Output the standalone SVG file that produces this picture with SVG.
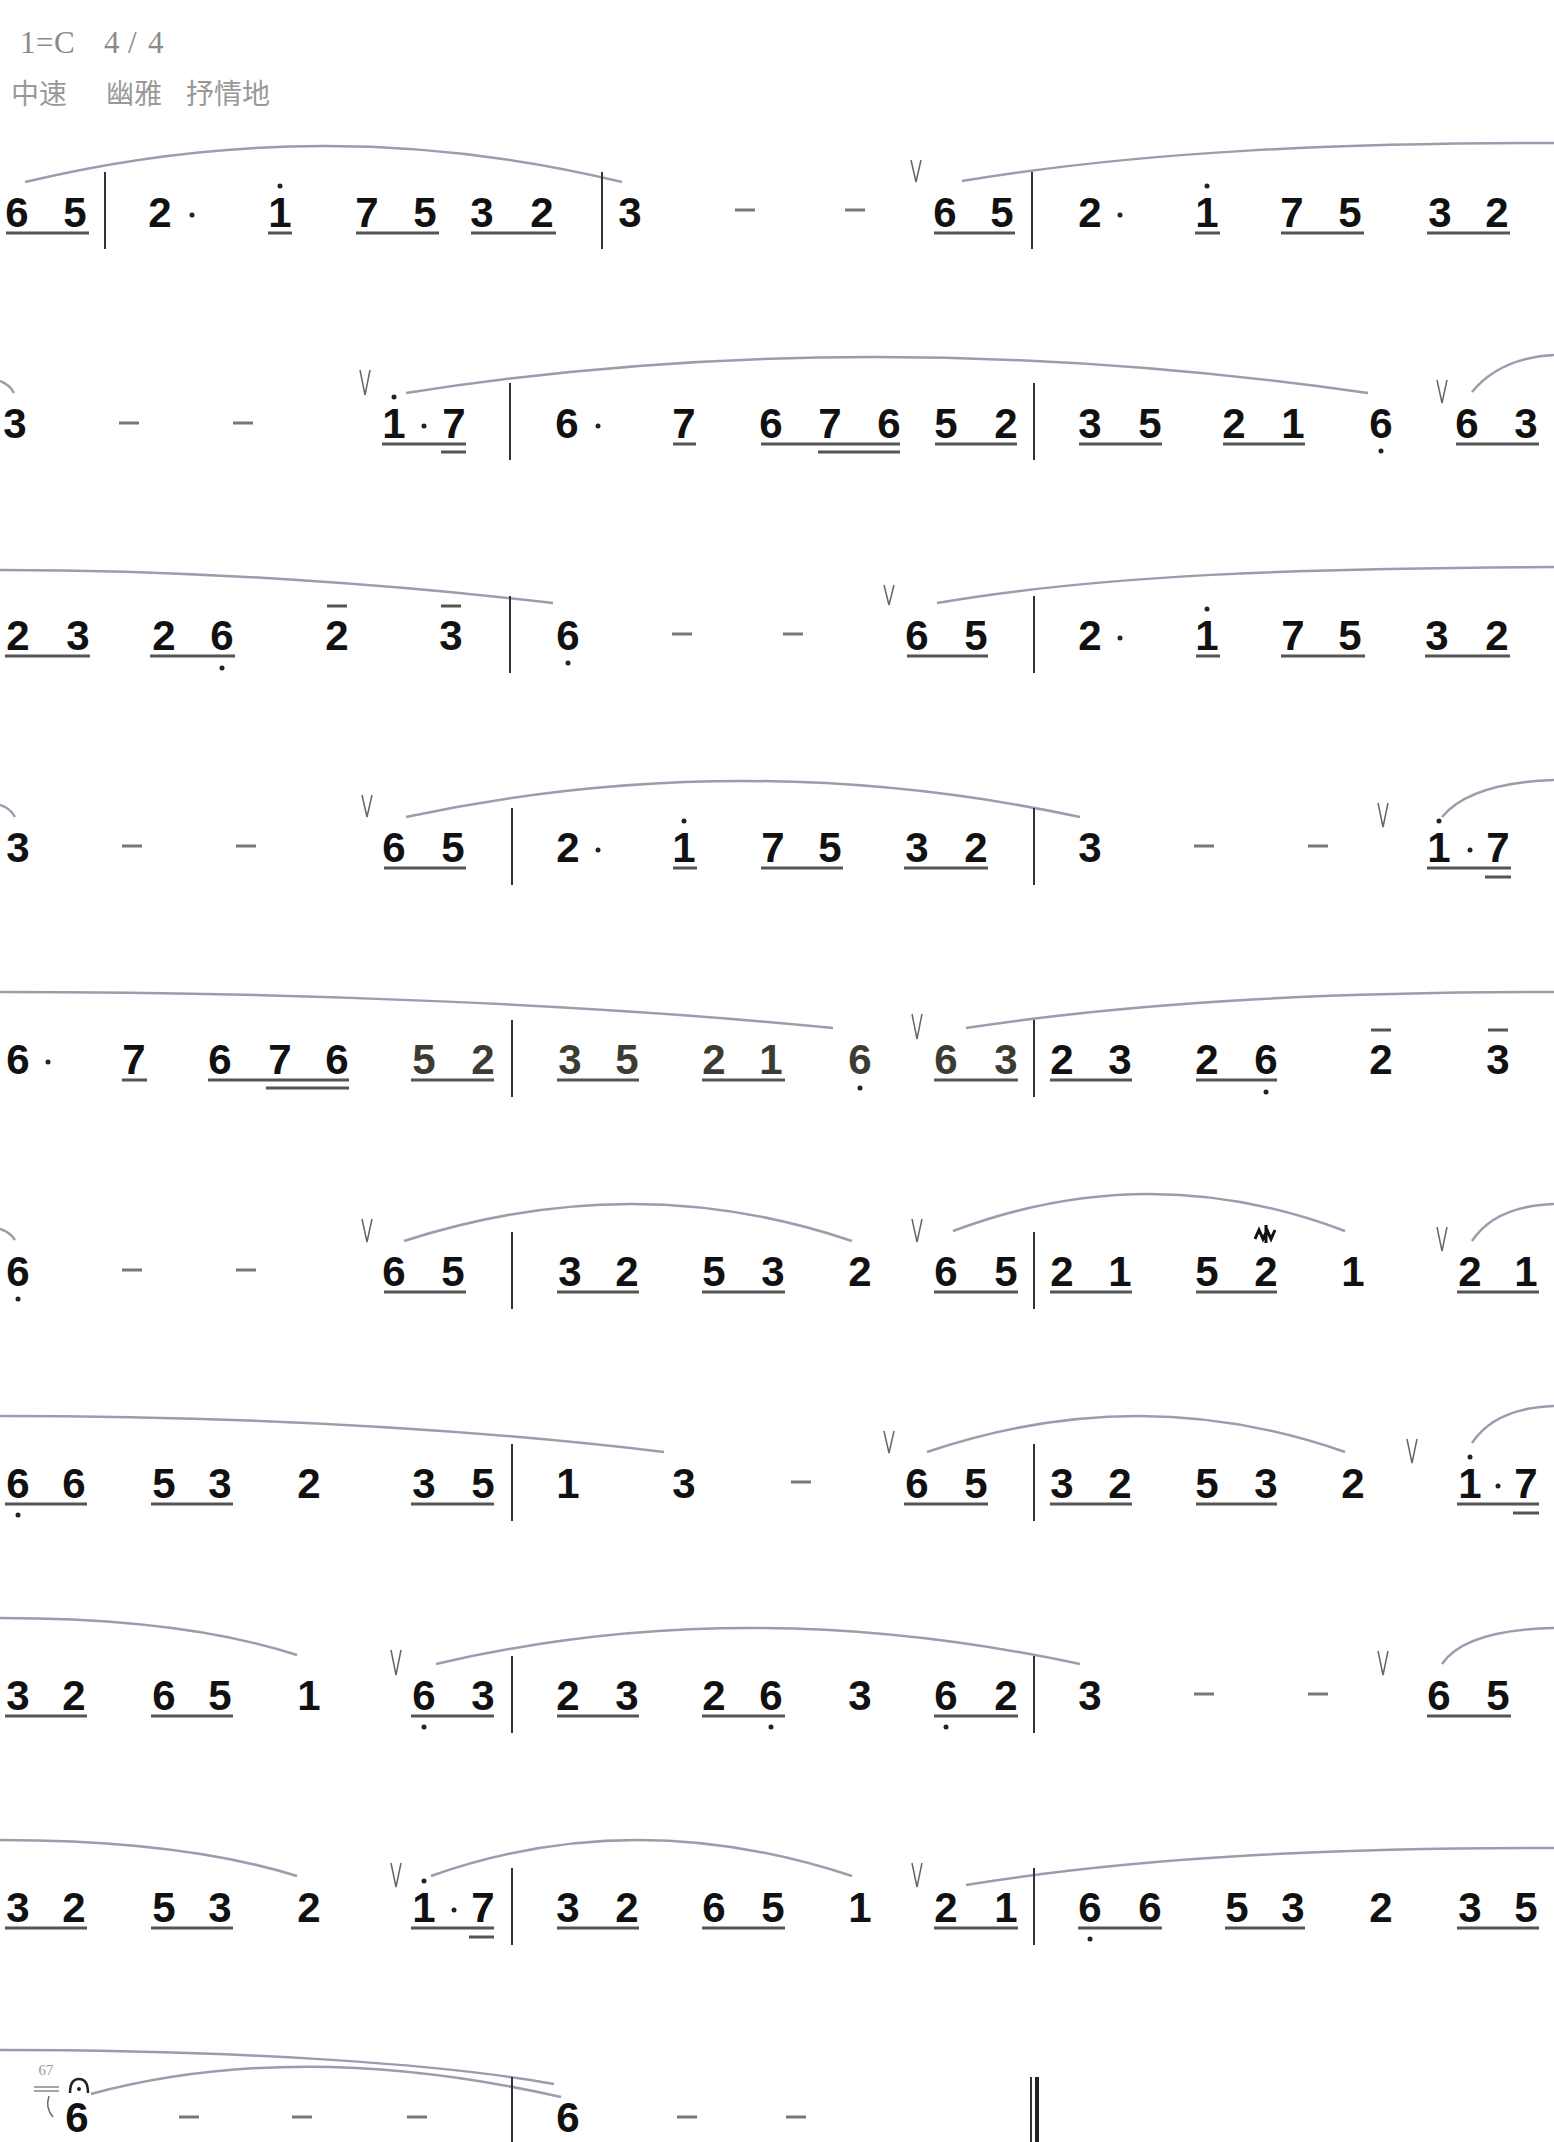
<svg xmlns="http://www.w3.org/2000/svg" width="1554" height="2142" viewBox="0 0 1554 2142">
<style>
.d{font-family:"Liberation Sans",Arial,sans-serif;font-weight:bold;font-size:42px;fill:#111;text-anchor:middle}
.dl{fill:#3c3c32}
.h{font-family:"Liberation Serif",serif;font-size:31px;fill:#8a8a8a}
.c{font-family:"Noto Sans CJK SC",sans-serif;font-size:28px;fill:#999}
.u{fill:none;stroke:#555;stroke-width:3}
.s{fill:none;stroke:#9c9cae;stroke-width:2.5}
.b{fill:none;stroke:#333;stroke-width:2}
.v{fill:none;stroke:#666;stroke-width:1.5}
.ds{fill:none;stroke:#777;stroke-width:3}
.p{fill:#222}
</style>
<rect width="1554" height="2142" fill="#fff"/>
<g id="header">
<text class="h" x="20 36 54" y="53">1=C</text>
<text class="h" x="104 128 148" y="53">4/4</text>
<text class="c" x="11" y="104">中速</text>
<text class="c" x="106" y="104">幽雅</text>
<text class="c" x="186" y="104">抒情地</text>
</g>
<g id="connectors">
<path class="s" d="M25 182Q325 110 622 182"/>
<path class="s" d="M962 181C1150 150 1350 143 1554 143"/>
<path class="s" d="M0 381Q10 385 14 393"/>
<path class="s" d="M406 393Q862 321 1368 393"/>
<path class="s" d="M1472 392Q1500 358 1554 355"/>
<path class="s" d="M0 570C200 570 400 585 553 603"/>
<path class="s" d="M937 603C1100 575 1300 568 1554 567"/>
<path class="s" d="M0 805Q10 808 15 817"/>
<path class="s" d="M406 817Q743 745 1080 817"/>
<path class="s" d="M1442 817Q1470 783 1554 780"/>
<path class="s" d="M0 992C300 992 600 1005 833 1028"/>
<path class="s" d="M966 1028C1150 1000 1350 992 1554 992"/>
<path class="s" d="M0 1229Q10 1232 15 1240"/>
<path class="s" d="M404 1241Q634 1167 852 1241"/>
<path class="s" d="M953 1231Q1150 1157 1345 1231"/>
<path class="s" d="M1472 1241Q1495 1206 1554 1204"/>
<path class="s" d="M0 1416C250 1416 480 1430 664 1452"/>
<path class="s" d="M927 1452Q1140 1380 1345 1452"/>
<path class="s" d="M1472 1443Q1495 1408 1554 1406"/>
<path class="s" d="M0 1618C120 1618 220 1630 297 1655"/>
<path class="s" d="M436 1664Q743 1592 1080 1664"/>
<path class="s" d="M1442 1664Q1465 1630 1554 1628"/>
<path class="s" d="M0 1840C120 1840 220 1852 297 1876"/>
<path class="s" d="M431 1876Q634 1804 852 1876"/>
<path class="s" d="M966 1885C1150 1855 1350 1848 1554 1848"/>
<path class="s" d="M0 2050C250 2050 450 2065 554 2084"/>
<path class="s" d="M91 2094Q300 2038 561 2097"/>
</g>
<g id="row1">
<text class="d" x="17 75 160 280 367 425 482 542 630 945 1002 1090 1207 1292 1350 1440 1497" y="227">65217532365217532</text>
<path class="u" d="M6 233H89M268 233H292M356 233H439M471 233H556M934 233H1015M1195 233H1220M1281 233H1364M1427 233H1510"/>
<path class="b" d="M105 172V249M602 172V249M1032 172V249"/>
<path class="ds" d="M735 210H755M845 210H865"/>
<path class="v" d="M911 160L916 182L921 160"/>
<circle class="p" cx="192" cy="215" r="2.5"/><circle class="p" cx="1120" cy="215" r="2.5"/>
<circle class="p" cx="280" cy="186" r="2.5"/><circle class="p" cx="1207" cy="186" r="2.5"/>
</g>
<g id="row2">
<text class="d" x="15 394 454 567 684 771 830 889 946 1006 1090 1150 1234 1293 1381 1467 1526" y="438">31767676523521663</text>
<path class="u" d="M382 444H466M673 444H696M761 444H900M935 444H1017M1079 444H1162M1223 444H1305M1456 444H1539M441 452H466M818 452H900"/>
<path class="b" d="M510 383V460M1034 383V460"/>
<path class="ds" d="M119 423H139M233 423H253"/>
<path class="v" d="M360 370L365 395L370 370M1437 380L1442 403L1447 380"/>
<circle class="p" cx="424" cy="426" r="2.5"/><circle class="p" cx="598" cy="426" r="2.5"/>
<circle class="p" cx="394" cy="397" r="2.5"/><circle class="p" cx="1381" cy="451" r="2.5"/>
</g>
<g id="row3">
<text class="d" x="18 78 164 222 337 451 568 917 976 1090 1207 1293 1350 1437 1497" y="650">232623665217532</text>
<path class="u" d="M5 656H90M150 656H235M907 656H988M1196 656H1220M1281 656H1365M1425 656H1510M327 606H347M441 606H461"/>
<path class="b" d="M510 596V673M1034 596V673"/>
<path class="ds" d="M672 634H692M783 634H803"/>
<path class="v" d="M884 585L889 605L894 585"/>
<circle class="p" cx="222" cy="668" r="2.5"/><circle class="p" cx="568" cy="663" r="2.5"/>
<circle class="p" cx="1207" cy="609" r="2.5"/><circle class="p" cx="1120" cy="638" r="2.5"/>
</g>
<g id="row4">
<text class="d" x="18 394 453 568 684 773 830 917 976 1090 1439 1498" y="862">365217532317</text>
<path class="u" d="M384 868H466M673 868H697M761 868H843M904 868H988M1427 868H1511M1485 877H1511"/>
<path class="b" d="M512 808V885M1034 808V885"/>
<path class="ds" d="M122 846H142M236 846H256M1194 846H1214M1308 846H1328"/>
<path class="v" d="M362 795L367 817L372 795M1378 803L1383 827L1388 803"/>
<circle class="p" cx="598" cy="850" r="2.5"/><circle class="p" cx="1470" cy="850" r="2.5"/>
<circle class="p" cx="684" cy="821" r="2.5"/><circle class="p" cx="1439" cy="821" r="2.5"/>
</g>
<g id="row5">
<text class="d" x="18 134 220 280 337" y="1074">67676</text>
<text class="d dl" x="424 483 570 627 714 771 860 946 1006" y="1074">523521663</text>
<text class="d" x="1062 1120 1207 1266 1381 1498" y="1074">232623</text>
<path class="u" d="M122 1080H147M208 1080H349M411 1080H494M557 1080H639M702 1080H785M934 1080H1018M1050 1080H1132M1196 1080H1277M266 1088H349M1371 1030H1391M1488 1030H1508"/>
<path class="b" d="M512 1020V1097M1034 1020V1097"/>
<path class="v" d="M912 1014L917 1039L922 1014"/>
<circle class="p" cx="48" cy="1062" r="2.5"/><circle class="p" cx="860" cy="1088" r="2.5"/><circle class="p" cx="1266" cy="1092" r="2.5"/>
</g>
<g id="row6">
<text class="d" x="18 394 453 570 627 714 773 860 946 1006 1062 1120 1207 1266 1353 1470 1526" y="1286">66532532652152121</text>
<path class="u" d="M384 1292H466M557 1292H639M702 1292H785M934 1292H1018M1050 1292H1132M1196 1292H1277M1457 1292H1539"/>
<path class="b" d="M512 1232V1309M1034 1232V1309"/>
<path class="ds" d="M122 1270H142M236 1270H256"/>
<path class="v" d="M362 1219L367 1242L372 1219M912 1219L917 1242L922 1219M1437 1227L1442 1251L1447 1227"/>
<path fill="none" stroke="#111" stroke-width="3" d="M1255 1239L1259 1230L1263 1239L1267 1230L1271 1239L1275 1230M1266 1225V1243"/>
<circle class="p" cx="18" cy="1299" r="2.5"/>
</g>
<g id="row7">
<text class="d" x="18 74 164 220 309 424 483 568 684 917 976 1062 1120 1207 1266 1353 1470 1526" y="1498">665323513653253217</text>
<path class="u" d="M5 1504H87M151 1504H233M411 1504H494M904 1504H988M1050 1504H1132M1196 1504H1277M1457 1504H1539M1513 1513H1539"/>
<path class="b" d="M512 1444V1521M1034 1444V1521"/>
<path class="ds" d="M791 1482H811"/>
<path class="v" d="M884 1431L889 1453L894 1431M1407 1439L1412 1463L1417 1439"/>
<circle class="p" cx="18" cy="1515" r="2.5"/><circle class="p" cx="1470" cy="1457" r="2.5"/><circle class="p" cx="1498" cy="1486" r="2.5"/>
</g>
<g id="row8">
<text class="d" x="18 74 164 220 309 424 483 568 627 714 771 860 946 1006 1090 1439 1498" y="1710">32651632326362365</text>
<path class="u" d="M5 1716H87M151 1716H233M411 1716H494M557 1716H639M702 1716H785M934 1716H1018M1427 1716H1511"/>
<path class="b" d="M512 1656V1733M1034 1656V1733"/>
<path class="ds" d="M1194 1694H1214M1308 1694H1328"/>
<path class="v" d="M391 1650L396 1675L401 1650M1378 1651L1383 1675L1388 1651"/>
<circle class="p" cx="424" cy="1727" r="2.5"/><circle class="p" cx="771" cy="1727" r="2.5"/><circle class="p" cx="946" cy="1727" r="2.5"/>
</g>
<g id="row9">
<text class="d" x="18 74 164 220 309 424 483 568 627 714 773 860 946 1006 1090 1150 1237 1293 1381 1470 1526" y="1922">325321732651216653235</text>
<path class="u" d="M5 1928H87M151 1928H233M411 1928H494M557 1928H639M702 1928H785M934 1928H1018M1078 1928H1162M1225 1928H1305M1457 1928H1539M469 1937H494"/>
<path class="b" d="M512 1868V1945M1034 1868V1945"/>
<path class="v" d="M391 1863L396 1887L401 1863M912 1863L917 1887L922 1863"/>
<circle class="p" cx="424" cy="1881" r="2.5"/><circle class="p" cx="454" cy="1910" r="2.5"/><circle class="p" cx="1090" cy="1939" r="2.5"/>
</g>
<g id="row10">
<text class="d" x="77 568" y="2132">66</text>
<text x="46" y="2075" style="font-family:'Liberation Serif',serif;font-size:15px;fill:#999;text-anchor:middle">67</text>
<path stroke="#888" stroke-width="1.5" fill="none" d="M34 2087H59M34 2091H59"/>
<path class="v" d="M49 2096Q45 2108 53 2117"/>
<path fill="none" stroke="#222" stroke-width="2.5" d="M70 2093Q70 2079 79 2079Q88 2079 88 2093"/>
<circle class="p" cx="79" cy="2089" r="2"/>
<path class="ds" d="M179 2117H199M292 2117H312M407 2117H427M677 2117H697M786 2117H806"/>
<path class="b" d="M512 2077V2142M1031 2077V2142"/>
<path stroke="#222" stroke-width="4" d="M1037 2077V2142"/>
</g>
</svg>
